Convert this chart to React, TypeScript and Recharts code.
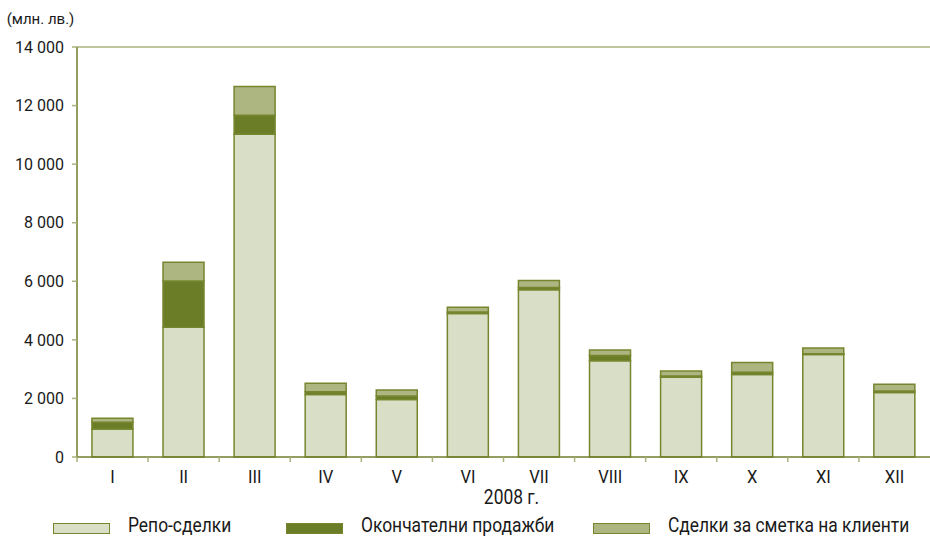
import React from 'react';
import { BarChart, Bar, XAxis, YAxis, ReferenceLine, Legend } from 'recharts';

// месеци 2008 г.
const months = ['I', 'II', 'III', 'IV', 'V', 'VI', 'VII', 'VIII', 'IX', 'X', 'XI', 'XII'];
const repo = [960, 4430, 11020, 2130, 1960, 4900, 5710, 3290, 2720, 2820, 3500, 2200];
const finalSales = [225, 1580, 650, 100, 120, 50, 80, 180, 50, 70, 25, 55];
const clients = [135, 640, 980, 290, 210, 160, 240, 180, 170, 340, 200, 230];
const yTicks = [0, 2000, 4000, 6000, 8000, 10000, 12000, 14000];

const seriesNames = ['Репо-сделки', 'Окончателни продажби', 'Сделки за сметка на клиенти'];
const seriesColors = ['#d9dfc6', '#6b7d27', '#adb581'];

const FONT = "Roboto, 'Liberation Sans', sans-serif";
const AXIS = '#6e7f2b';
const STROKE = '#76862f';
const TXT = '#1a1a1a';
const SQUEEZE = 0.87; // оригиналният шрифт е сбит (condensed)

const data = months.map((m, i) => ({
  month: m,
  repo: repo[i],
  finalSales: finalSales[i],
  clients: clients[i],
}));

const fmt = (v: number) => (v >= 1000 ? `${Math.floor(v / 1000)} ${String(v % 1000).padStart(3, '0')}` : String(v));

// подпис под оста + малко тире на границата между месеците
const MonthTick = (props: any) => {
  const { x, y, payload } = props;
  const half = payload.offset || 0;
  return (
    <g>
      <line x1={x - half} y1={y - 8} x2={x - half} y2={y - 3} stroke="#a9b27a" strokeWidth={1.5} />
      <text
        transform={`translate(${x},${y + 18}) scale(${SQUEEZE},1)`}
        textAnchor="middle"
        fontFamily={FONT}
        fontSize={19}
        fill={TXT}
      >
        {payload.value}
      </text>
    </g>
  );
};

const YearLabel = (props: any) => {
  const { viewBox } = props;
  const cx = viewBox.x + viewBox.width / 2 + 8;
  const by = viewBox.y + viewBox.height - 3;
  return (
    <text transform={`translate(${cx},${by}) scale(${SQUEEZE},1)`} textAnchor="middle" fontFamily={FONT} fontSize={20} fill={TXT}>
      2008 г.
    </text>
  );
};

// легендата е с фиксирани места, както в оригинала
const legendLeft = [53, 286, 593];

const LegendContent = () => (
  <div style={{ position: 'relative', width: 930, height: 29, whiteSpace: 'nowrap' }}>
    {seriesNames.map((name, i) => (
      <React.Fragment key={name}>
        <span
          style={{
            position: 'absolute',
            left: legendLeft[i],
            top: 16,
            width: 55,
            height: 9,
            background: seriesColors[i],
            border: `1px solid ${STROKE}`,
          }}
        />
        <span
          style={{
            position: 'absolute',
            left: legendLeft[i] + 75,
            top: 8,
            lineHeight: '20px',
            fontFamily: FONT,
            fontSize: 20,
            color: TXT,
            transform: `scaleX(${SQUEEZE})`,
            transformOrigin: 'left center',
          }}
        >
          {name}
        </span>
      </React.Fragment>
    ))}
  </div>
);

export default function App() {
  return (
    <div style={{ position: 'absolute', left: 0, top: 0, background: '#fff' }}>
      <BarChart width={930} height={536} data={data} margin={{ top: 47, right: 0, left: 0, bottom: 0 }} barCategoryGap="21%">
        <XAxis
          dataKey="month"
          tick={<MonthTick />}
          tickLine={false}
          axisLine={{ stroke: AXIS, strokeWidth: 1.5 }}
          height={50}
          interval={0}
          label={<YearLabel />}
        />
        <YAxis
          width={77}
          domain={[0, 14000]}
          ticks={yTicks}
          interval={0}
          tickFormatter={fmt}
          tickSize={5}
          tickMargin={8}
          tickLine={{ stroke: '#a9b27a', strokeWidth: 1.5 }}
          axisLine={{ stroke: AXIS, strokeWidth: 1.5 }}
          tick={{ fontFamily: FONT, fontSize: 16, fill: TXT }}
          label={{ value: '(млн. лв.)', position: 'top', offset: 23, dx: 2, fontFamily: FONT, fontSize: 15, fill: TXT }}
        />
        <ReferenceLine y={14000} stroke="#a9b27a" strokeWidth={1.5} />
        <Legend verticalAlign="bottom" align="left" content={<LegendContent />} />
        <Bar dataKey="repo" name={seriesNames[0]} stackId="a" fill={seriesColors[0]} stroke={STROKE} strokeWidth={1.5} isAnimationActive={false} />
        <Bar dataKey="finalSales" name={seriesNames[1]} stackId="a" fill={seriesColors[1]} stroke={STROKE} strokeWidth={1.5} isAnimationActive={false} />
        <Bar dataKey="clients" name={seriesNames[2]} stackId="a" fill={seriesColors[2]} stroke={STROKE} strokeWidth={1.5} isAnimationActive={false} />
      </BarChart>
    </div>
  );
}
